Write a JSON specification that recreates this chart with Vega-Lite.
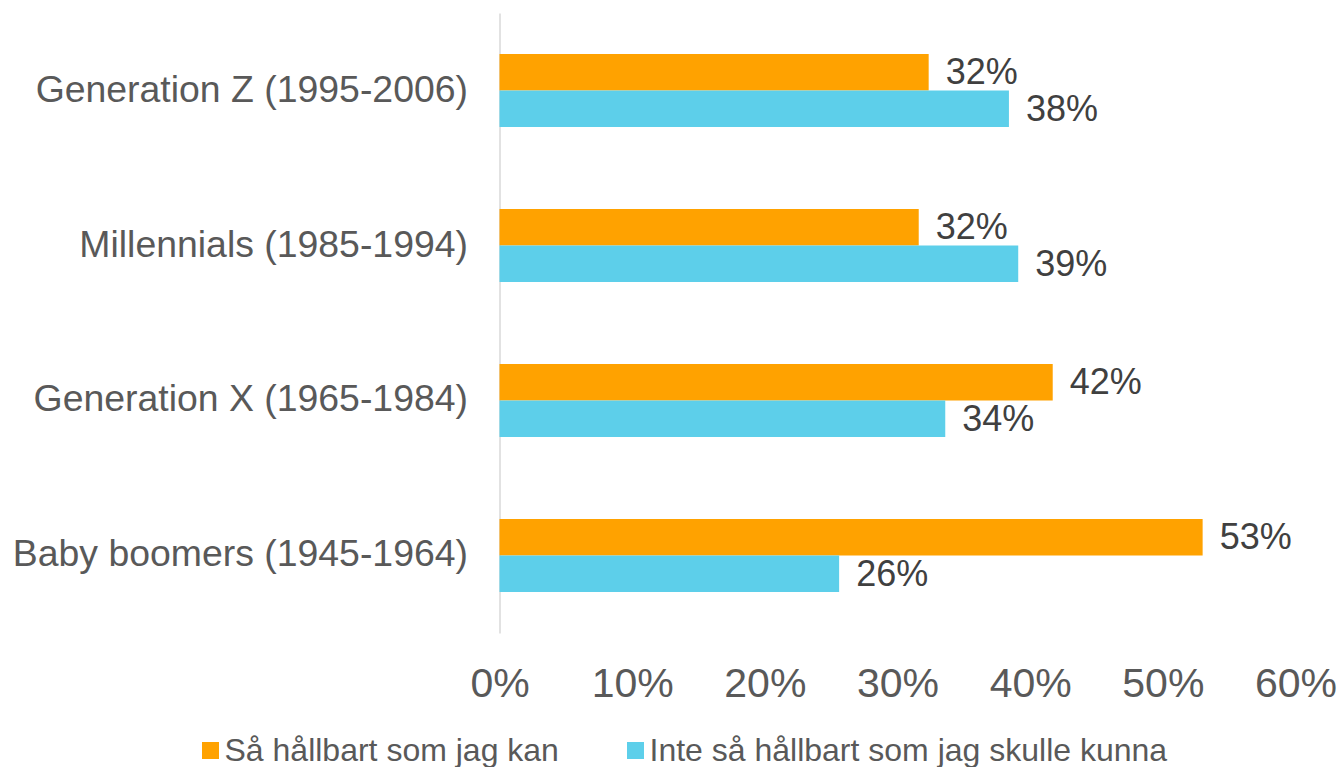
{
  "$schema": "https://vega.github.io/schema/vega-lite/v6.json",
  "width": 796,
  "height": 620,
  "autosize": {"type": "none"},
  "padding": {"left": 499.5, "top": 13, "right": 44.5, "bottom": 134},
  "background": "white",
  "config": {
    "font": "Liberation Sans",
    "view": {"stroke": null}
  },
  "data": {
    "values": [
      {"gen": "Generation Z (1995-2006)", "serie": "Så hållbart som jag kan", "v": 0.3235},
      {"gen": "Generation Z (1995-2006)", "serie": "Inte så hållbart som jag skulle kunna", "v": 0.384},
      {"gen": "Millennials (1985-1994)", "serie": "Så hållbart som jag kan", "v": 0.316},
      {"gen": "Millennials (1985-1994)", "serie": "Inte så hållbart som jag skulle kunna", "v": 0.391},
      {"gen": "Generation X (1965-1984)", "serie": "Så hållbart som jag kan", "v": 0.417},
      {"gen": "Generation X (1965-1984)", "serie": "Inte så hållbart som jag skulle kunna", "v": 0.336},
      {"gen": "Baby boomers (1945-1964)", "serie": "Så hållbart som jag kan", "v": 0.53},
      {"gen": "Baby boomers (1945-1964)", "serie": "Inte så hållbart som jag skulle kunna", "v": 0.256}
    ]
  },
  "encoding": {
    "y": {
      "field": "gen",
      "type": "nominal",
      "sort": null,
      "scale": {"paddingInner": 0.529, "paddingOuter": 0.265},
      "axis": {
        "title": null,
        "ticks": false,
        "labelFontSize": 37.4,
        "labelColor": "#595959",
        "labelPadding": 32,
        "labelLimit": 600,
        "domainColor": "#d9d9d9",
        "domainWidth": 1.5
      }
    },
    "yOffset": {
      "field": "serie",
      "type": "nominal",
      "scale": {"domain": ["Så hållbart som jag kan", "Inte så hållbart som jag skulle kunna"], "paddingInner": 0, "paddingOuter": 0}
    },
    "x": {
      "field": "v",
      "type": "quantitative",
      "scale": {"domain": [0, 0.6], "nice": false},
      "axis": {
        "title": null,
        "format": ".0%",
        "values": [0, 0.1, 0.2, 0.3, 0.4, 0.5, 0.6],
        "grid": false,
        "ticks": false,
        "domain": false,
        "labelFontSize": 41,
        "labelColor": "#595959",
        "labelPadding": 31,
        "labelFlush": false,
        "labelOverlap": false
      }
    }
  },
  "layer": [
    {
      "mark": {"type": "bar"},
      "encoding": {
        "color": {
          "field": "serie",
          "type": "nominal",
          "scale": {"domain": ["Så hållbart som jag kan", "Inte så hållbart som jag skulle kunna"], "range": ["#FFA200", "#5DCFEA"]},
          "legend": {
            "title": null,
            "orient": "none",
            "direction": "horizontal",
            "legendX": -305,
            "legendY": 721.5,
            "symbolType": "square",
            "symbolSize": 289,
            "symbolStrokeWidth": 0,
            "labelFontSize": 32,
            "labelColor": "#595959",
            "labelOffset": -2,
            "labelLimit": 800,
            "columnPadding": 60,
            "padding": 0
          }
        }
      }
    },
    {
      "mark": {"type": "text", "align": "left", "baseline": "middle", "dx": 17, "dy": 1, "fontSize": 36, "color": "#404040"},
      "encoding": {
        "text": {"field": "v", "type": "quantitative", "format": ".0%"}
      }
    }
  ]
}
